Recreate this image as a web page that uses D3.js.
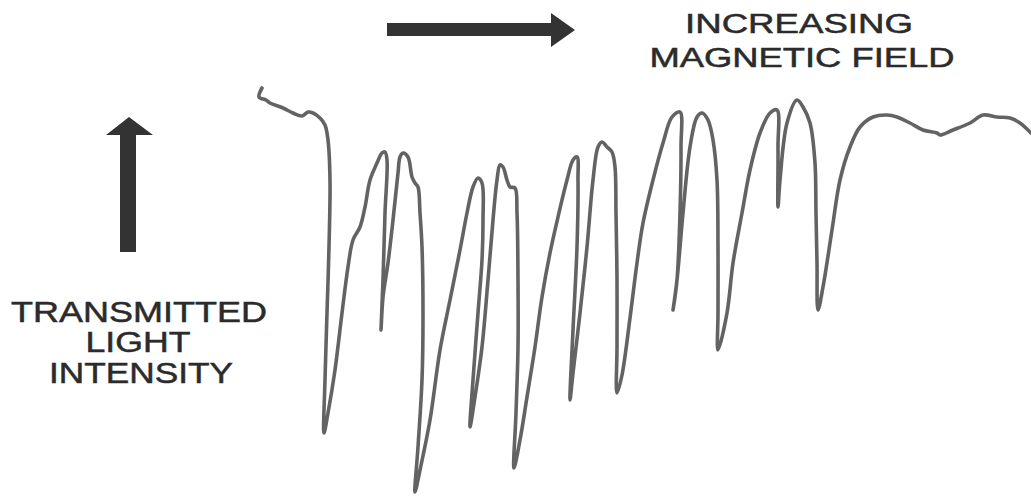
<!DOCTYPE html>
<html>
<head>
<meta charset="utf-8">
<script src="https://cdn.jsdelivr.net/npm/d3@7"></script>
<style>
  html, body { margin: 0; padding: 0; background: #fff; }
  svg { display: block; }
  .label { font-family: "Liberation Sans", Arial, sans-serif; fill: #2b2b2b; stroke: #2b2b2b; stroke-width: 0.5px; }
</style>
</head>
<body>
<div id="app"></div>
<script>
// magnetic field (arbitrary units), one row per absorption dip
const field = [
  4, 1, 8, 12, 25, 35, 44, 50, 55, 62, 67, 70, 72, 71, 69, 67, 66,
  70, 77, 84, 90, 95, 102, 107, 112, 119, 124, 127, 129, 127, 125, 123,
  125, 130, 135, 140, 142, 145, 150, 154, 157, 160, 162, 164, 165, 164, 160, 157,
  162, 172, 182, 192, 202, 209, 215, 220, 224, 225, 224, 220, 215, 212,
  217, 224, 230, 235, 239, 242, 245, 249, 252, 257, 259, 260, 260, 258, 256,
  262, 269, 277, 284, 292, 300, 309, 315, 319, 320, 319, 315, 312,
  315, 322, 329, 335, 340, 344, 349, 354, 357, 358, 359, 359, 359,
  364, 372, 379, 385, 395, 405, 414, 422, 423, 422, 419, 415,
  419, 425, 432, 439, 444, 450, 455, 459, 460, 460, 460,
  469, 475, 484, 492, 502, 512, 519, 520, 520,
  522, 529, 539, 545, 552, 557, 558, 559, 560,
  565, 574, 582, 592, 602, 615, 629, 639, 652, 665, 679, 682, 695, 712, 725, 739, 752, 762, 773
];
// transmitted light intensity (arbitrary units), same rows
const intensity = [
  407, 398, 395, 392, 387, 382, 379, 383, 382, 377, 370, 355, 315, 248, 182, 115, 62,
  82, 125, 182, 228, 255, 268, 288, 315, 332, 342, 343, 335, 282, 215, 165,
  198, 232, 275, 322, 338, 342, 338, 318, 312, 308, 282, 248, 182, 115, 48, 3,
  25, 75, 145, 195, 245, 282, 308, 317, 312, 275, 235, 182, 115, 68,
  98, 148, 215, 275, 315, 330, 328, 315, 308, 307, 282, 215, 148, 82, 27,
  55, 98, 148, 198, 242, 278, 315, 335, 338, 315, 248, 165, 95,
  122, 182, 248, 315, 348, 353, 348, 343, 328, 282, 215, 148, 102,
  120, 177, 232, 272, 315, 352, 378, 383, 348, 282, 215, 185,
  215, 282, 348, 378, 382, 375, 355, 315, 248, 182, 145,
  182, 232, 282, 325, 362, 382, 385, 348, 288,
  315, 372, 395, 388, 372, 332, 282, 232, 185,
  208, 265, 315, 348, 368, 378, 380, 378, 372, 365, 362, 360, 365, 372, 380, 378, 377, 372, 362
];
const traceData = field.map((f, i) => ({ field: f, intensity: intensity[i] }));

const topLines = ["INCREASING", "MAGNETIC FIELD"];
const sideLines = ["TRANSMITTED", "LIGHT", "INTENSITY"];

const width = 1031;
const height = 500;

const svg = d3.select("#app")
  .append("svg")
  .attr("width", width)
  .attr("height", height)
  .attr("viewBox", [0, 0, width, height]);

// scales: field to the right, intensity upwards
const x = d3.scaleLinear().domain([0, 773]).range([258, 1031]);
const y = d3.scaleLinear().domain([0, 407]).range([495, 88]);

// the recorded trace, lightly smoothed like a pen recorder
const line = d3.line()
  .x(d => x(d.field))
  .y(d => y(d.intensity))
  .curve(d3.curveCatmullRom.alpha(0.5));

svg.append("path")
  .datum(traceData)
  .attr("d", line)
  .attr("fill", "none")
  .attr("stroke", "#636363")
  .attr("stroke-width", 3.6)
  .attr("stroke-linejoin", "round")
  .attr("stroke-linecap", "round");

// horizontal arrow (increasing field)
svg.append("path")
  .attr("d", "M387,23 L551,23 L551,13 L575,30 L551,47 L551,36 L387,36 Z")
  .attr("fill", "#333");

// vertical arrow (transmitted intensity)
svg.append("path")
  .attr("d", "M120,252 L120,135 L106,135 L129,117 L153,135 L136,135 L136,252 Z")
  .attr("fill", "#333");

// top labels
const topText = [
  { t: topLines[0], cx: 799, base: 33, w: 228 },
  { t: topLines[1], cx: 802, base: 67, w: 305 }
];
svg.selectAll("text.top")
  .data(topText)
  .join("text")
  .attr("class", "label top")
  .attr("x", d => d.cx - d.w / 2)
  .attr("y", d => d.base)
  .attr("font-size", 27)
  .attr("textLength", d => d.w)
  .attr("lengthAdjust", "spacingAndGlyphs")
  .text(d => d.t);

// side labels
const sideText = [
  { t: sideLines[0], cx: 139, base: 322, w: 256 },
  { t: sideLines[1], cx: 138, base: 352, w: 105 },
  { t: sideLines[2], cx: 141, base: 383, w: 184 }
];
svg.selectAll("text.side")
  .data(sideText)
  .join("text")
  .attr("class", "label side")
  .attr("x", d => d.cx - d.w / 2)
  .attr("y", d => d.base)
  .attr("font-size", 29)
  .attr("textLength", d => d.w)
  .attr("lengthAdjust", "spacingAndGlyphs")
  .text(d => d.t);
</script>
</body>
</html>
